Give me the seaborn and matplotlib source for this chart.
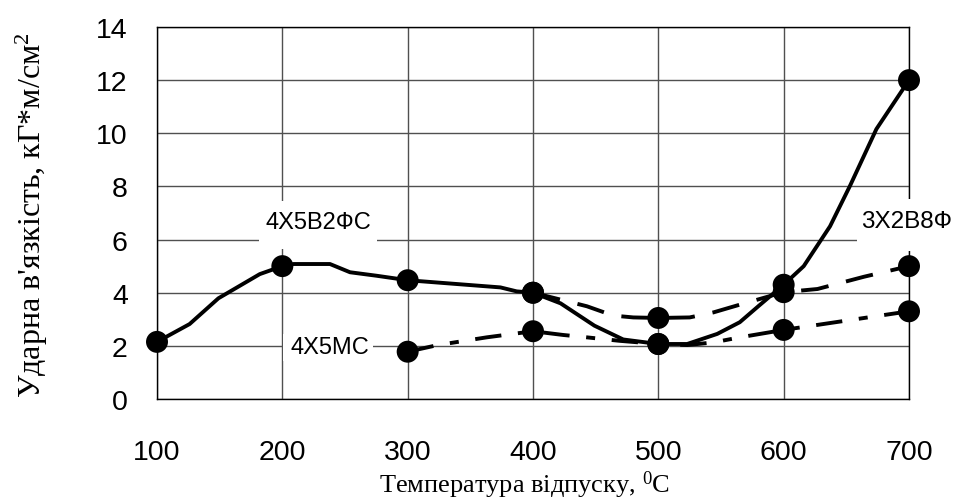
import matplotlib
matplotlib.use('Agg')
import numpy as np
import pandas as pd
import seaborn as sns
import matplotlib.pyplot as plt
from matplotlib.patches import Rectangle

# measured points (markers)
temps_a = [100, 200, 300, 400, 500, 600, 700]
vals_a = [2.15, 5.0, 4.47, 4.0, 2.07, 4.3, 12.0]     # 4Х5В2ФС
temps_b = [400, 500, 600, 700]
vals_b = [4.0, 3.05, 4.02, 5.0]                       # 3Х2В8Ф
temps_c = [300, 400, 500, 600, 700]
vals_c = [1.78, 2.55, 2.07, 2.6, 3.3]                 # 4Х5МС

# smoothed curves
curve_a_x = [100, 126, 149, 182, 200, 209, 238, 254, 275, 300, 374, 387, 400, 422, 449, 472,
             500, 523, 547, 565, 580, 600, 616, 637, 653, 674, 700]
curve_a_y = [2.15, 2.82, 3.79, 4.7, 5.0, 5.08, 5.08, 4.77, 4.64, 4.47, 4.2, 4.05, 4.0, 3.6, 2.76, 2.24,
             2.07, 2.07, 2.45, 2.89, 3.5, 4.3, 5.0, 6.5, 8.03, 10.16, 12.0]
curve_b_x = [400, 422, 443, 464, 480, 500, 525, 544, 565, 600, 627, 664, 700]
curve_b_y = [4.0, 3.74, 3.49, 3.14, 3.07, 3.05, 3.07, 3.26, 3.55, 4.02, 4.14, 4.6, 5.0]
curve_c_x = [300, 324, 363, 400, 424, 443, 469, 500, 523, 544, 565, 600, 700]
curve_c_y = [1.78, 2.03, 2.32, 2.55, 2.41, 2.32, 2.19, 2.07, 2.03, 2.13, 2.32, 2.6, 3.3]

xticks = [100, 200, 300, 400, 500, 600, 700]
yticks = [0, 2, 4, 6, 8, 10, 12, 14]

sns.set_style("white")
plt.rcParams['font.family'] = ['Liberation Sans', 'DejaVu Sans']
plt.rcParams['mathtext.fontset'] = 'custom'
plt.rcParams['mathtext.rm'] = 'Liberation Serif'
plt.rcParams['lines.scale_dashes'] = False
for k in ['text.color', 'xtick.color', 'ytick.color', 'axes.labelcolor']:
    plt.rcParams[k] = 'black'

fig = plt.figure(figsize=(9.55, 5.02), dpi=100)
ax = fig.add_axes([157/955, 1-400/502, (909-157)/955, (400-28)/502])

lw = 2.8
sns.lineplot(x=curve_a_x, y=curve_a_y, ax=ax, color='black', lw=lw, zorder=4)
sns.lineplot(x=curve_b_x, y=curve_b_y, ax=ax, color='black', lw=lw, zorder=4).lines[-1].set_dashes([20, 13])
sns.lineplot(x=curve_c_x, y=curve_c_y, ax=ax, color='black', lw=lw, zorder=4).lines[-1].set_dashes([19, 12, 6.5, 12])

for tx, vx in [(temps_a, vals_a), (temps_b, vals_b), (temps_c, vals_c)]:
    sns.scatterplot(x=tx, y=vx, ax=ax, color='black', s=250, edgecolor='none', zorder=5, clip_on=False)

ax.set_xlim(100, 700)
ax.set_ylim(0, 14)
ax.set_xticks(xticks)
ax.set_yticks(yticks)
ax.tick_params(axis='both', length=0, labelsize=20.5, labelcolor='black')
ax.tick_params(axis='x', pad=29)
ax.tick_params(axis='y', pad=21)
ax.grid(True, color='#505050', lw=1.0, zorder=0)
ax.set_axisbelow(True)
for sp in ax.spines.values():
    sp.set_color('black')
    sp.set_linewidth(1.0)
ax.set_xlabel('')
ax.set_ylabel('')

# white label boxes that cut the grid
for (x0, x1, y0, y1) in [(181.4, 275.5, 5.65, 7.45), (200.5, 272.3, 1.43, 2.45), (658.5, 739, 5.57, 7.53)]:
    ax.add_patch(Rectangle((x0, y0), x1 - x0, y1 - y0, fc='white', ec='none', zorder=3, clip_on=False))

ax.text(228.5, 6.66, '4Х5В2ФС', fontsize=17, ha='center', va='center', zorder=3.5)
ax.text(237.8, 1.94, '4Х5МС', fontsize=17, ha='center', va='center', zorder=3.5)
ax.text(698.2, 6.7, '3Х2В8Ф', fontsize=17.5, ha='center', va='center', zorder=3.5, clip_on=False)

fig.text(524/955, 1-493/502, r'Температура відпуску, $\mathregular{^0}$C', family='Liberation Serif',
         fontsize=19, ha='center', va='baseline')
fig.text(32/955, 1-215/502, r"Ударна в'язкість, кГ*м/см$\mathregular{^2}$", family='Liberation Serif',
         fontsize=23, ha='center', va='center', rotation=90)

fig.savefig('out.png', dpi=100)
